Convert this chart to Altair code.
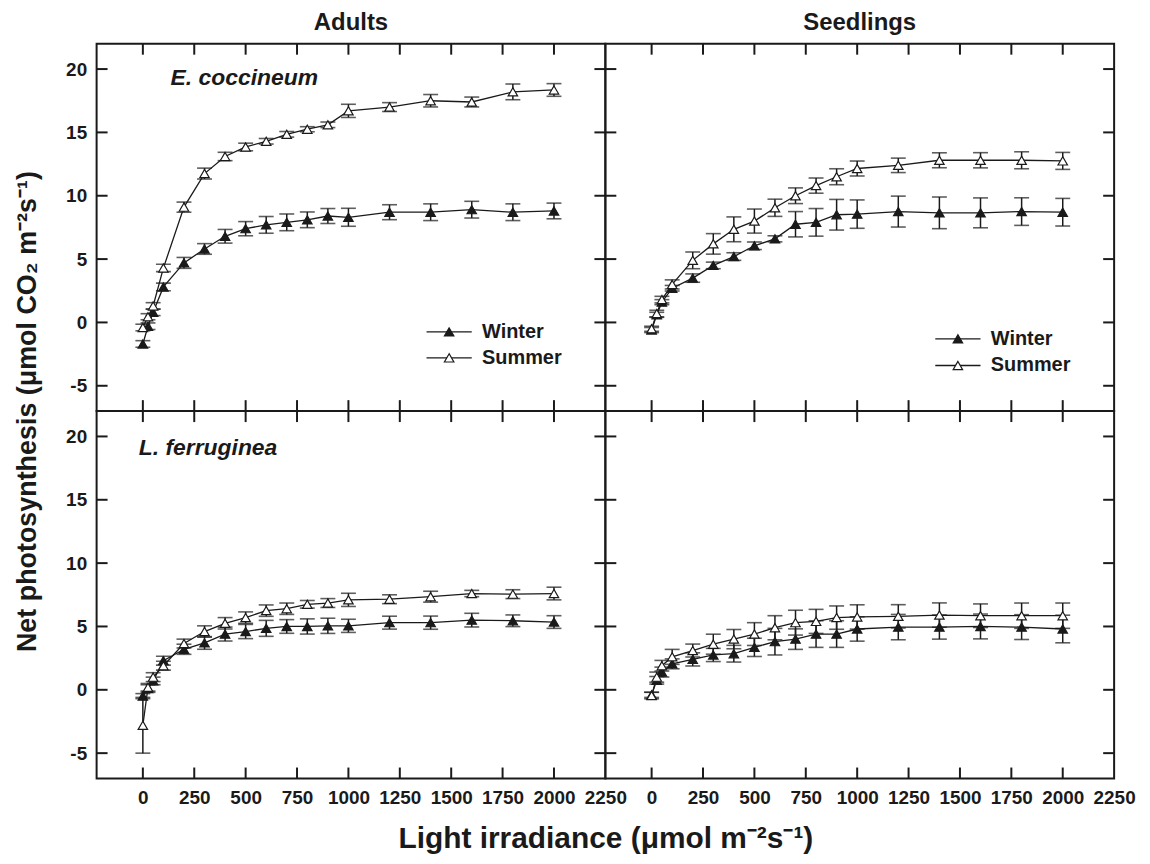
import altair as alt
import pandas as pd

# ---------------- data ----------------
LIGHT = [0, 25, 50, 100, 200, 300, 400, 500, 600, 700, 800, 900, 1000, 1200, 1400, 1600, 1800, 2000]

EC_AD_WIN = [-1.7, -0.3, 0.8, 2.8, 4.7, 5.8, 6.8, 7.4, 7.7, 7.9, 8.1, 8.4, 8.3, 8.7, 8.7, 8.9, 8.7, 8.8]
EC_AD_WIN_SE = [0.26, 0.26, 0.26, 0.3, 0.43, 0.42, 0.54, 0.56, 0.66, 0.66, 0.62, 0.59, 0.71, 0.59, 0.66, 0.66, 0.66, 0.62]
EC_AD_SUM = [-0.4, 0.45, 1.3, 4.3, 9.1, 11.75, 13.1, 13.85, 14.3, 14.85, 15.25, 15.6, 16.7, 17.0, 17.5, 17.4, 18.2, 18.35]
EC_AD_SUM_SE = [0.26, 0.24, 0.26, 0.29, 0.4, 0.43, 0.33, 0.3, 0.22, 0.22, 0.2, 0.22, 0.52, 0.35, 0.49, 0.39, 0.62, 0.5]

EC_SE_WIN = [-0.6, 0.6, 1.6, 2.7, 3.5, 4.5, 5.2, 6.05, 6.6, 7.75, 7.9, 8.5, 8.55, 8.75, 8.65, 8.65, 8.75, 8.7]
EC_SE_WIN_SE = [0.2, 0.2, 0.2, 0.22, 0.33, 0.26, 0.3, 0.3, 0.24, 1.0, 1.09, 1.21, 1.12, 1.22, 1.25, 1.18, 1.09, 1.09]
EC_SE_SUM = [-0.5, 0.7, 1.8, 3.0, 4.9, 6.2, 7.35, 8.0, 9.05, 10.0, 10.8, 11.5, 12.15, 12.4, 12.8, 12.8, 12.8, 12.75]
EC_SE_SUM_SE = [0.2, 0.26, 0.26, 0.36, 0.66, 0.81, 0.98, 0.95, 0.68, 0.62, 0.6, 0.63, 0.59, 0.57, 0.59, 0.6, 0.67, 0.67]

LF_AD_WIN = [-0.5, 0.1, 0.7, 2.3, 3.2, 3.7, 4.4, 4.6, 4.85, 5.0, 5.0, 5.05, 5.05, 5.3, 5.3, 5.5, 5.45, 5.35]
LF_AD_WIN_SE = [0.2, 0.3, 0.3, 0.35, 0.4, 0.5, 0.55, 0.56, 0.63, 0.54, 0.6, 0.6, 0.52, 0.51, 0.52, 0.54, 0.46, 0.5]
LF_AD_SUM = [-2.8, 0.2, 1.0, 1.9, 3.65, 4.6, 5.25, 5.7, 6.25, 6.4, 6.75, 6.85, 7.1, 7.15, 7.35, 7.6, 7.55, 7.6]
LF_AD_SUM_SE = [2.2, 0.3, 0.35, 0.35, 0.35, 0.45, 0.45, 0.45, 0.45, 0.45, 0.3, 0.35, 0.52, 0.35, 0.43, 0.25, 0.35, 0.5]

LF_SE_WIN = [-0.4, 0.75, 1.4, 2.05, 2.4, 2.75, 2.85, 3.35, 3.8, 4.0, 4.4, 4.4, 4.8, 4.95, 4.95, 5.0, 4.95, 4.8]
LF_SE_WIN_SE = [0.2, 0.3, 0.39, 0.39, 0.52, 0.52, 0.66, 0.72, 1.05, 0.81, 1.05, 1.05, 0.96, 1.0, 0.95, 0.98, 0.98, 1.09]
LF_SE_SUM = [-0.45, 1.0, 1.9, 2.6, 3.1, 3.6, 4.0, 4.4, 4.9, 5.3, 5.4, 5.7, 5.75, 5.8, 5.9, 5.85, 5.85, 5.85]
LF_SE_SUM_SE = [0.26, 0.4, 0.42, 0.59, 0.51, 0.79, 0.76, 0.9, 0.95, 0.98, 0.95, 0.92, 0.96, 0.92, 0.96, 0.93, 1.0, 1.0]

SEASONS = ["Winter", "Summer"]
COLUMN_TITLES = ["Adults", "Seedlings"]
SPECIES = ["E. coccineum", "L. ferruginea"]
X_TICKS = [0, 250, 500, 750, 1000, 1250, 1500, 1750, 2000, 2250]
Y_TICKS = [-5, 0, 5, 10, 15, 20]
X_DOMAIN = [-225, 2250]
Y_DOMAIN = [-7, 22]
Y_TITLE = "Net photosynthesis (\u03bcmol CO\u2082 m\u207b\u00b2s\u207b\u00b9)"
X_TITLE = "Light irradiance (\u03bcmol m\u207b\u00b2s\u207b\u00b9)"

# legend anchor (data units) and species label anchor (data units)
LEGEND_X = [1380, 1600]
LEGEND_TEXT_X = 1650
LEGEND_Y_TL = [-0.75, -2.8]
LEGEND_Y_TR = [-1.3, -3.4]
SPECIES_POS = {"E. coccineum": (135, 19.3), "L. ferruginea": (-20, 19.1)}

FONT = "Liberation Sans"
W, H = 511, 369
TL = 11
INK = "#1a1a1a"


def series_df(win, win_se, summ, summ_se):
    rows = []
    for season, vals, errs in ((SEASONS[0], win, win_se), (SEASONS[1], summ, summ_se)):
        for x, v, e in zip(LIGHT, vals, errs):
            rows.append({"light": x, "val": v, "lo": v - e, "hi": v + e, "season": season})
    return pd.DataFrame(rows)


xs = alt.Scale(domain=X_DOMAIN, nice=False, zero=False)
ys = alt.Scale(domain=Y_DOMAIN, nice=False, zero=False)
fill_scale = alt.Scale(domain=SEASONS, range=[INK, "white"])


def panel(df, left=False, bottom=False, title=None, species=None, legend_y=None,
          y_title=False, x_title=False):
    if bottom:
        xaxis = alt.Axis(values=X_TICKS, ticks=False, domain=False, grid=False,
                         labelFont=FONT, labelFontSize=19, labelFontWeight="bold",
                         labelColor=INK, labelPadding=10, labelFlush=False,
                         labelOverlap=False, labelBound=False,
                         labelExpr="datum.value + ''",
                         title=X_TITLE if x_title else None,
                         titleFont=FONT, titleFontSize=30, titleFontWeight="bold",
                         titleColor=INK, titleX=W, titleY=45, titleAlign="center")
    else:
        xaxis = None
    if left:
        yaxis = alt.Axis(values=Y_TICKS, ticks=False, domain=False, grid=False,
                         labelFont=FONT, labelFontSize=19, labelFontWeight="bold",
                         labelColor=INK, labelPadding=10, labelFlush=False,
                         labelOverlap=False, labelBound=False,
                         labelExpr="datum.value + ''",
                         title=Y_TITLE if y_title else None,
                         titleFont=FONT, titleFontSize=27, titleFontWeight="bold",
                         titleColor=INK, titleX=-55, titleY=H, titleAlign="center",
                         titleAngle=270, titleBaseline="bottom")
    else:
        yaxis = None

    base = alt.Chart(df)
    x = alt.X("light:Q", scale=xs, axis=xaxis)

    err = base.mark_rule(color=INK, strokeWidth=1.5).encode(
        x=x, y=alt.Y("lo:Q", scale=ys, axis=yaxis), y2="hi:Q")
    cap_lo = base.mark_tick(color=INK, orient="horizontal", size=15, thickness=1.6).encode(
        x=x, y=alt.Y("lo:Q", scale=ys))
    cap_hi = base.mark_tick(color=INK, orient="horizontal", size=15, thickness=1.6).encode(
        x=x, y=alt.Y("hi:Q", scale=ys))
    line = base.mark_line(color=INK, strokeWidth=1.3).encode(
        x=x, y=alt.Y("val:Q", scale=ys), detail="season:N", order="light:Q")
    pts = base.mark_point(shape="triangle-up", size=90, filled=True, stroke=INK,
                          strokeWidth=1.2, opacity=1).encode(
        x=x, y=alt.Y("val:Q", scale=ys),
        fill=alt.Fill("season:N", scale=fill_scale, legend=None))

    tick_x = pd.DataFrame({"t": X_TICKS[:-1]})
    tick_y = pd.DataFrame({"t": Y_TICKS})
    tx = alt.X("t:Q", scale=xs)
    ty = alt.Y("t:Q", scale=ys)
    tk = dict(color=INK, strokeWidth=2)
    ticks = [
        alt.Chart(tick_x).mark_rule(**tk).encode(x=tx, y=alt.value(0), y2=alt.value(TL)),
        alt.Chart(tick_x).mark_rule(**tk).encode(x=tx, y=alt.value(H - TL), y2=alt.value(H)),
        alt.Chart(tick_y).mark_rule(**tk).encode(y=ty, x=alt.value(0), x2=alt.value(TL)),
        alt.Chart(tick_y).mark_rule(**tk).encode(y=ty, x=alt.value(W - TL), x2=alt.value(W)),
    ]

    layers = [err, cap_lo, cap_hi, line, pts] + ticks

    if species is not None:
        sx, sy = SPECIES_POS[species]
        sp = alt.Chart(pd.DataFrame({"x": [sx], "y": [sy], "label": [species]})).mark_text(
            font=FONT, fontSize=23, fontWeight="bold", fontStyle="italic", align="left",
            baseline="middle", color=INK).encode(
            x=alt.X("x:Q", scale=xs), y=alt.Y("y:Q", scale=ys), text="label:N")
        layers.append(sp)

    if legend_y is not None:
        leg_rows = []
        for s, yv in zip(SEASONS, legend_y):
            leg_rows.append({"season": s, "x1": LEGEND_X[0], "x2": LEGEND_X[1],
                             "xm": (LEGEND_X[0] + LEGEND_X[1]) / 2, "xt": LEGEND_TEXT_X, "y": yv})
        ldf = pd.DataFrame(leg_rows)
        lbase = alt.Chart(ldf)
        layers.append(lbase.mark_rule(color=INK, strokeWidth=1.3).encode(
            x=alt.X("x1:Q", scale=xs), x2="x2:Q", y=alt.Y("y:Q", scale=ys)))
        layers.append(lbase.mark_point(shape="triangle-up", size=90, filled=True, stroke=INK,
                                       strokeWidth=1.2, opacity=1).encode(
            x=alt.X("xm:Q", scale=xs), y=alt.Y("y:Q", scale=ys),
            fill=alt.Fill("season:N", scale=fill_scale, legend=None)))
        layers.append(lbase.mark_text(font=FONT, fontSize=20, fontWeight="bold", align="left",
                                      baseline="middle", color=INK).encode(
            x=alt.X("xt:Q", scale=xs), y=alt.Y("y:Q", scale=ys), text="season:N"))

    props = dict(width=W, height=H)
    if title is not None:
        props["title"] = alt.TitleParams(title, font=FONT, fontSize=24, fontWeight="bold",
                                         color=INK, anchor="middle", offset=8)
    return alt.layer(*layers).properties(**props)


tl = panel(series_df(EC_AD_WIN, EC_AD_WIN_SE, EC_AD_SUM, EC_AD_SUM_SE), left=True,
           title=COLUMN_TITLES[0], species=SPECIES[0], legend_y=LEGEND_Y_TL, y_title=True)
tr = panel(series_df(EC_SE_WIN, EC_SE_WIN_SE, EC_SE_SUM, EC_SE_SUM_SE),
           title=COLUMN_TITLES[1], legend_y=LEGEND_Y_TR)
bl = panel(series_df(LF_AD_WIN, LF_AD_WIN_SE, LF_AD_SUM, LF_AD_SUM_SE), left=True, bottom=True,
           species=SPECIES[1], x_title=True)
br = panel(series_df(LF_SE_WIN, LF_SE_WIN_SE, LF_SE_SUM, LF_SE_SUM_SE), bottom=True)

chart = alt.concat(tl, tr, bl, br, columns=2, spacing=0, bounds="flush"
                   ).configure_view(stroke=INK, strokeWidth=2).properties(
    background="white",
    padding={"left": 4, "top": 0, "right": 5, "bottom": 5},
)

chart.save("out.html", embed_options={"renderer": "svg", "actions": False})
